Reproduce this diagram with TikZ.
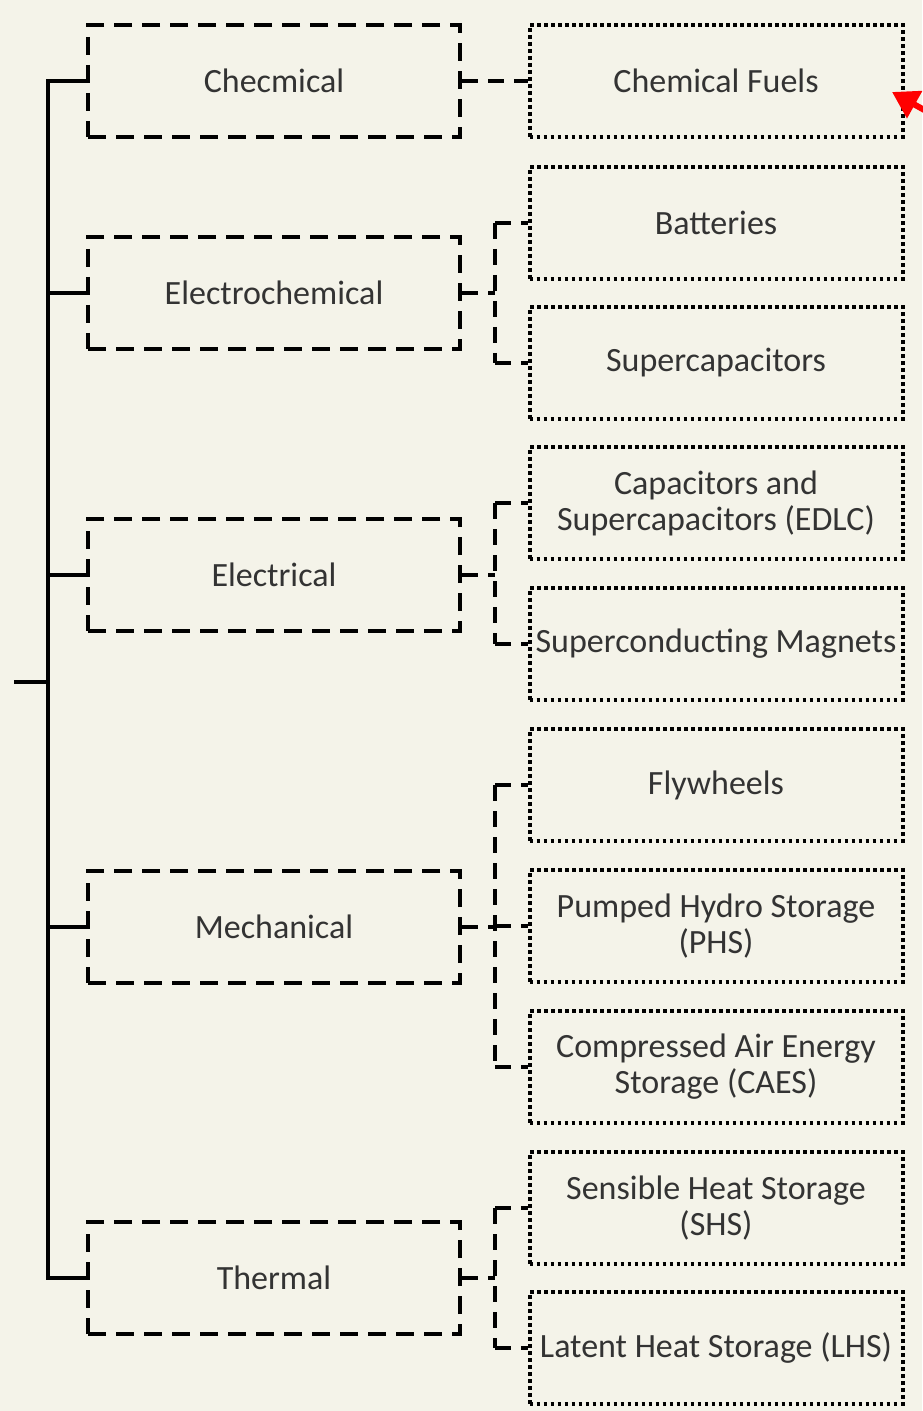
\documentclass[tikz,border=0pt]{standalone}
\usepackage{fontspec}
\setmainfont{Carlito}
\usetikzlibrary{arrows.meta}
\definecolor{bgc}{HTML}{F4F3E9}
\definecolor{txt}{HTML}{333333}
\begin{document}
\begin{tikzpicture}[x=0.5pt,y=-0.5pt,
  catbox/.style={draw=black, line width=2pt, dash pattern=on 9pt off 5pt, minimum width=186pt, minimum height=56pt, inner sep=0pt, align=center, text=txt, font=\fontsize{17}{18}\selectfont},
  subbox/.style={draw=black, line width=2pt, dash pattern=on 1.8pt off 1.7pt, minimum width=186.5pt, minimum height=56pt, inner sep=0pt, align=center, text=txt, font=\fontsize{17}{18}\selectfont},
  trunk/.style={line width=2pt, line cap=rect},
  conn/.style={line width=2pt, dash pattern=on 8pt off 5pt}]
\fill[bgc] (0,0) rectangle (922,1411);
\useasboundingbox (0,0) rectangle (922,1411);
% category boxes
\node[catbox] (chem) at (274,81) {Checmical};
\node[catbox] (echem) at (274,293) {Electrochemical};
\node[catbox] (elec) at (274,575) {Electrical};
\node[catbox] (mech) at (274,927) {Mechanical};
\node[catbox] (therm) at (274,1278) {Thermal};
% technology boxes
\node[subbox] (fuels) at (716,81) {Chemical Fuels};
\node[subbox] (batt) at (716,223) {Batteries};
\node[subbox] (scap) at (716,363) {Supercapacitors};
\node[subbox] (edlc) at (716,503) {Capacitors and\\Supercapacitors (EDLC)};
\node[subbox] (smes) at (716,644) {Superconducting Magnets};
\node[subbox] (fly) at (716,785) {Flywheels};
\node[subbox] (phs) at (716,926) {Pumped Hydro Storage\\(PHS)};
\node[subbox] (caes) at (716,1067) {Compressed Air Energy\\Storage (CAES)};
\node[subbox] (shs) at (716,1208) {Sensible Heat Storage\\(SHS)};
\node[subbox] (lhs) at (716,1348) {Latent Heat Storage (LHS)};
% trunk
\coordinate (root) at (16,682);
\coordinate (jtop) at (48,81);
\coordinate (jbot) at (48,1278);
\draw[trunk] (jtop) -- (jbot);
\draw[trunk] (root) -- (root -| jtop);
\foreach \b in {chem,echem,elec,mech,therm}{
  \draw[trunk, line cap=butt] (\b.west -| jtop) -- (\b.west);
}
% branch connectors
\coordinate (vx) at (495,0);
\draw[conn] (chem.east) -- (fuels.west);
\draw[conn] (echem.east) -- (echem.east -| vx);
\draw[conn] (batt.west -| vx) -- (scap.west -| vx);
\draw[conn] (batt.west -| vx) -- (batt.west);
\draw[conn] (scap.west -| vx) -- (scap.west);
\draw[conn] (elec.east) -- (elec.east -| vx);
\draw[conn] (edlc.west -| vx) -- (smes.west -| vx);
\draw[conn] (edlc.west -| vx) -- (edlc.west);
\draw[conn] (smes.west -| vx) -- (smes.west);
\draw[conn] (mech.east) -- (mech.east -| vx);
\draw[conn] (fly.west -| vx) -- (caes.west -| vx);
\draw[conn] (fly.west -| vx) -- (fly.west);
\draw[conn] (phs.west -| vx) -- (phs.west);
\draw[conn] (caes.west -| vx) -- (caes.west);
\draw[conn] (therm.east) -- (therm.east -| vx);
\draw[conn] (shs.west -| vx) -- (lhs.west -| vx);
\draw[conn] (shs.west -| vx) -- (shs.west);
\draw[conn] (lhs.west -| vx) -- (lhs.west);
% red arrow
\coordinate (rtail) at (935,116);
\coordinate (rhead) at (892,92);
\draw[red, line width=3pt, -{Triangle[length=13pt,width=15pt]}] (rtail) -- (rhead);
\end{tikzpicture}
\end{document}
